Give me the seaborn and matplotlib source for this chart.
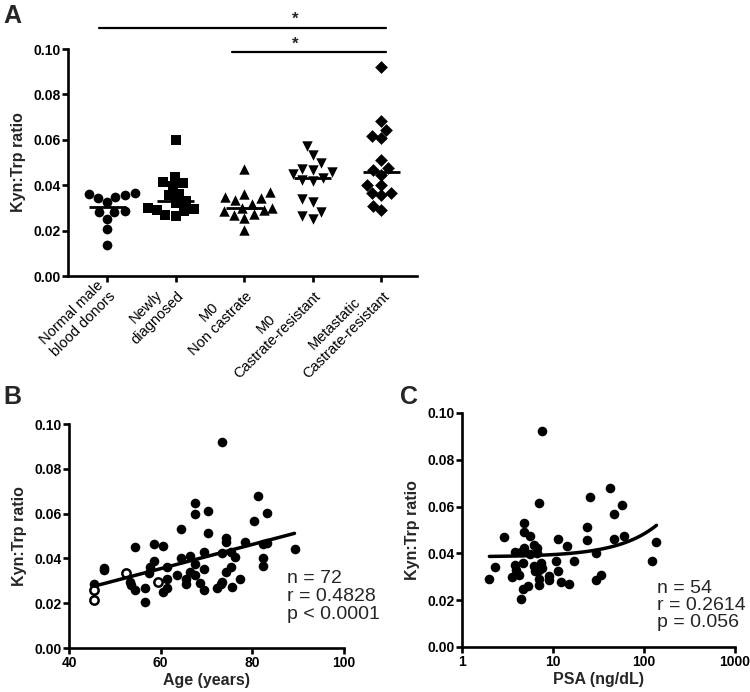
import numpy as np
import pandas as pd
from matplotlib import pyplot as plt
import seaborn as sns

# Panel A: Kyn:Trp ratio per patient group
groups = ["Normal male\nblood donors", "Newly\ndiagnosed", "M0\nNon castrate",
          "M0\nCastrate-resistant", "Metastatic\nCastrate-resistant"]
group_markers = ["o", "s", "^", "v", "D"]
group_sizes = [7, 7, 7.5, 7.5, 6.5]

normal_donors = [0.0366, 0.0361, 0.0356, 0.0350, 0.0345, 0.0325,
                 0.0285, 0.0282, 0.0280, 0.0252, 0.0207, 0.0138]
newly_diagnosed = [0.0597, 0.0437, 0.0412, 0.0408, 0.0395, 0.0362, 0.0355, 0.0330,
                   0.0322, 0.0300, 0.0293, 0.0290, 0.0286, 0.0268, 0.0264]
m0_non_castrate = [0.0470, 0.0372, 0.0360, 0.0348, 0.0342, 0.0335, 0.0318, 0.0300,
                   0.0298, 0.0290, 0.0285, 0.0272, 0.0268, 0.0255, 0.0204]
m0_castrate_resistant = [0.0572, 0.0532, 0.0496, 0.0472, 0.0468, 0.0458, 0.0448, 0.0432,
                         0.0425, 0.0418, 0.0341, 0.0326, 0.0282, 0.0266, 0.0253]
metastatic_crpc = [0.0922, 0.0682, 0.0641, 0.0616, 0.0606, 0.0513, 0.0476, 0.0465,
                   0.0447, 0.0399, 0.0399, 0.0366, 0.0366, 0.0359, 0.0307, 0.0290]

# Panel B: ratio vs age (open circles drawn hollow)
age_filled = [45.5, 47.6, 47.7, 53.2, 53.6, 54.5, 54.5, 56.5, 56.5, 57.4, 57.6, 58.5, 58.5,
              60.4, 60.4, 61.4, 61.4, 61.4, 63.5, 64.4, 64.4, 65.5, 65.5, 66.4, 66.4, 67.5,
              67.5, 67.5, 67.5, 68.6, 69.5, 69.5, 69.5, 70.4, 70.4, 72.3, 73.2, 73.4, 73.4,
              73.4, 74.3, 74.3, 74.3, 75.4, 75.5, 75.4, 76.3, 77.3, 78.3, 80.4, 81.3, 82.3,
              82.3, 82.3, 83.3, 83.3, 89.2]
kyn_age_filled = [0.0285, 0.0348, 0.0355, 0.0296, 0.0280, 0.0449, 0.0261, 0.0269, 0.0206,
                  0.0336, 0.0363, 0.0390, 0.0464, 0.0457, 0.0251, 0.0266, 0.0310, 0.0363,
                  0.0328, 0.0400, 0.0531, 0.0310, 0.0285, 0.0410, 0.0340, 0.0646, 0.0599,
                  0.0373, 0.0325, 0.0291, 0.0261, 0.0352, 0.0430, 0.0613, 0.0512, 0.0270,
                  0.0285, 0.0293, 0.0422, 0.0919, 0.0490, 0.0472, 0.0340, 0.0363, 0.0273,
                  0.0430, 0.0407, 0.0307, 0.0472, 0.0569, 0.0679, 0.0404, 0.0367, 0.0464,
                  0.0604, 0.0467, 0.0442]
age_open = [45.5, 45.5, 52.5, 59.4]
kyn_age_open = [0.0258, 0.0213, 0.0336, 0.0293]
age_ticks = [40, 60, 80, 100]
age_stats = "n = 72\nr = 0.4828\np < 0.0001"

# Panel C: ratio vs PSA
psa = [2.0, 2.29, 2.9, 3.55, 3.8, 3.86, 3.96, 4.2, 4.4, 4.65, 4.4, 4.65, 4.77, 4.77, 4.77,
       5.3, 5.55, 5.65, 6.15, 6.15, 6.4, 6.6, 6.7, 7.0, 7.1, 7.1, 7.1, 7.3, 7.5, 7.6, 9.1,
       9.1, 10.8, 11.3, 11.4, 12.3, 14.1, 14.9, 17.2, 23.7, 23.7, 25.2, 29.8, 29.8, 33.8,
       42.0, 46.5, 46.5, 57.5, 60.0, 123.0, 137.0]
kyn_psa = [0.0292, 0.0340, 0.0470, 0.0299, 0.0406, 0.0349, 0.0330, 0.0309, 0.0406, 0.0359,
           0.0205, 0.0249, 0.0423, 0.0530, 0.0491, 0.0259, 0.0476, 0.0399, 0.0437, 0.0345,
           0.0323, 0.0423, 0.0402, 0.0330, 0.0615, 0.0292, 0.0264, 0.0359, 0.0924, 0.0338,
           0.0302, 0.0288, 0.0369, 0.0323, 0.0463, 0.0278, 0.0433, 0.0271, 0.0369, 0.0511,
           0.0459, 0.0641, 0.0402, 0.0288, 0.0309, 0.0679, 0.0570, 0.0463, 0.0605, 0.0473,
           0.0366, 0.0449]
psa_ticks = [1, 10, 100, 1000]
psa_stats = "n = 54\nr = 0.2614\np = 0.056"

ratio_ticks = [0.00, 0.02, 0.04, 0.06, 0.08, 0.10]
ratio_labels = [f"{t:.2f}" for t in ratio_ticks]


def box(left, top, right, bottom):
    # pixel box -> figure fraction rect
    return [left / 750, 1 - bottom / 692, (right - left) / 750, (bottom - top) / 692]


sns.set_style("ticks")
plt.rcParams["font.family"] = ["Liberation Sans", "DejaVu Sans"]
plt.rcParams.update({"font.weight": "bold", "axes.labelweight": "bold",
                     "axes.linewidth": 1.9, "xtick.major.width": 1.9, "ytick.major.width": 1.9,
                     "xtick.major.size": 4, "ytick.major.size": 4,
                     "xtick.major.pad": 2, "ytick.major.pad": 1.5,
                     "xtick.labelsize": 10, "ytick.labelsize": 10, "axes.labelsize": 11.5,
                     "xtick.color": "black", "ytick.color": "black", "axes.edgecolor": "black"})

fig = plt.figure(figsize=(7.5, 6.92), dpi=100)
ax_a = fig.add_axes(box(68, 49, 417, 276))
ax_b = fig.add_axes(box(69, 424, 344, 648))
ax_c = fig.add_axes(box(462, 413, 735, 647))

# A
values = [normal_donors, newly_diagnosed, m0_non_castrate, m0_castrate_resistant, metastatic_crpc]
df_a = pd.DataFrame({"group": np.repeat(groups, [len(v) for v in values]),
                     "ratio": np.concatenate(values)})
for i, (g, m, sz) in enumerate(zip(groups, group_markers, group_sizes)):
    sns.swarmplot(data=df_a[df_a["group"] == g], x="group", y="ratio", order=groups,
                  marker=m, size=sz, color="black", linewidth=0, ax=ax_a)
    ax_a.hlines(np.median(values[i]), i - 0.27, i + 0.27, color="black", lw=2)

ax_a.set_xlim(-0.57, 4.52)
ax_a.set_ylim(0, 0.10)
ax_a.set_yticks(ratio_ticks, ratio_labels, fontweight="bold")
ax_a.set_xticks(range(len(groups)))
ax_a.set_xticklabels(groups, rotation=45, ha="right", va="center", rotation_mode="anchor",
                     multialignment="center", fontweight="normal", fontsize=10.5)
ax_a.tick_params(axis="x", pad=5)
ax_a.set_xlabel("")
ax_a.set_ylabel("Kyn:Trp ratio", labelpad=5)

# significance bars
for x0, y in [(-0.12, 0.1093), (1.82, 0.0987)]:
    ax_a.plot([x0, 4.07], [y, y], color="black", lw=1.6, clip_on=False)
    ax_a.text(2.74, y + 0.0003, "*", ha="center", va="bottom", fontsize=12, clip_on=False)

# B
sns.scatterplot(x=age_filled, y=kyn_age_filled, color="black", s=48, linewidth=0, ax=ax_b)
sns.scatterplot(x=age_open, y=kyn_age_open, color="white", edgecolor="black", s=36,
                linewidth=1.8, ax=ax_b)
sns.regplot(x=age_filled + age_open, y=kyn_age_filled + kyn_age_open, scatter=False, ci=None,
            color="black", line_kws={"lw": 2.5}, ax=ax_b)
ax_b.set_xlim(40, 100)
ax_b.set_xticks(age_ticks, [str(t) for t in age_ticks], fontweight="bold")
ax_b.set_ylim(0, 0.10)
ax_b.set_yticks(ratio_ticks, ratio_labels, fontweight="bold")
ax_b.set_xlabel("Age (years)", labelpad=2)
ax_b.set_ylabel("Kyn:Trp ratio", labelpad=5)
ax_b.text(0.793, 0.35, age_stats, transform=ax_b.transAxes, ha="left", va="top",
          fontsize=14, fontweight="normal", linespacing=1.1, clip_on=False)

# C
ax_c.set_xscale("log")
sns.scatterplot(x=psa, y=kyn_psa, color="black", s=48, linewidth=0, ax=ax_c)
sns.regplot(x=psa, y=kyn_psa, scatter=False, ci=None, color="black",
            line_kws={"lw": 2.5}, ax=ax_c)
ax_c.set_xlim(1, 1000)
ax_c.set_xticks(psa_ticks, [str(t) for t in psa_ticks], fontweight="bold")
ax_c.minorticks_off()
ax_c.set_ylim(0, 0.10)
ax_c.set_yticks(ratio_ticks, ratio_labels, fontweight="bold")
ax_c.set_xlabel("PSA (ng/dL)", labelpad=2)
ax_c.set_ylabel("Kyn:Trp ratio", labelpad=5)
ax_c.text(0.715, 0.285, psa_stats, transform=ax_c.transAxes, ha="left", va="top",
          fontsize=14, fontweight="normal", linespacing=1.0, clip_on=False)

for ax in (ax_a, ax_b, ax_c):
    sns.despine(ax=ax)

fig.text(3 / 750, 1 - 23 / 692, "A", fontsize=18, va="baseline")
fig.text(3 / 750, 1 - 404 / 692, "B", fontsize=18, va="baseline")
fig.text(400 / 750, 1 - 404 / 692, "C", fontsize=18, va="baseline")

fig.savefig("out.png", dpi=100)
